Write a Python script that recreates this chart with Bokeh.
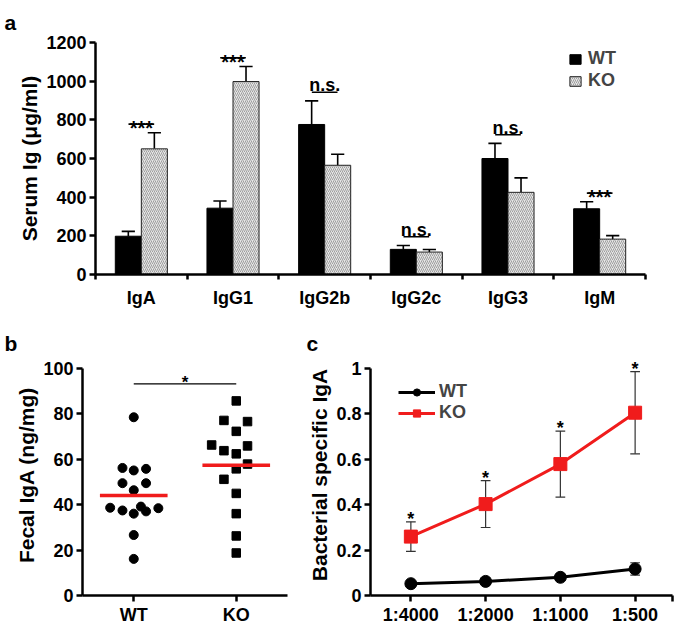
import numpy as np
from bokeh.plotting import figure
from bokeh.layouts import column, row
from bokeh.models import FixedTicker, Legend, LegendItem, ColumnDataSource, Range1d
from bokeh.embed import file_html
from bokeh.resources import INLINE

FONT = "Liberation Sans"

# ---------------- data: panel a ----------------
isotypes = ["IgA", "IgG1", "IgG2b", "IgG2c", "IgG3", "IgM"]
wt_serum = [198, 343, 776, 130, 600, 340]
wt_serum_sem = [25, 37, 122, 20, 78, 36]
ko_serum = [650, 998, 565, 116, 425, 183]
ko_serum_sem = [83, 78, 57, 13, 75, 18]
serum_sig = ["***", "***", "n.s.", "n.s.", "n.s.", "***"]
serum_ticks = [0, 200, 400, 600, 800, 1000, 1200]

# ---------------- data: panel b ----------------
fecal_groups = ["WT", "KO"]
fecal_wt = [78.4, 56.1, 55.0, 55.7, 49.4, 49.4, 46.3, 38.6, 37.4, 39.1, 36.0, 37.0, 38.4, 26.6, 16.1]
fecal_wt_jitter = [0, -0.11, 0, 0.12, -0.11, 0.12, 0, -0.23, -0.11, 0.07, 0, 0.12, 0.24, 0, 0]
fecal_ko = [85.6, 77.0, 76.5, 72.2, 66.2, 65.8, 63.7, 62.3, 57.8, 55.7, 51.1, 44.9, 36.0, 26.2, 18.7]
fecal_ko_jitter = [0, -0.12, 0.11, 0, -0.24, 0.11, -0.12, 0, 0.11, 0, -0.12, 0, 0, 0, 0]
fecal_ticks = [0, 20, 40, 60, 80, 100]

# ---------------- data: panel c ----------------
dilutions = ["1:4000", "1:2000", "1:1000", "1:500"]
bact_wt = [0.052, 0.062, 0.080, 0.117]
bact_wt_sem = [0.008, 0.008, 0.010, 0.027]
bact_ko = [0.259, 0.402, 0.578, 0.804]
bact_ko_sem = [0.065, 0.103, 0.145, 0.181]
bact_ticks = [0, 0.2, 0.4, 0.6, 0.8, 1]
bact_tick_labels = ["0", "0.2", "0.4", "0.6", "0.8", "1"]

RED = "#f01c1c"


def style_axes(p):
    p.outline_line_color = None
    p.xgrid.visible = False
    p.ygrid.visible = False
    p.background_fill_color = "white"
    p.border_fill_color = "white"
    for ax in p.axis:
        ax.axis_line_width = 2.5
        ax.axis_line_color = "black"
        ax.major_tick_line_width = 2.5
        ax.minor_tick_line_width = 2.5
        ax.major_tick_in = 0
        ax.minor_tick_in = 0
        ax.major_tick_out = 6
        ax.major_label_text_font = FONT
        ax.major_label_text_font_style = "bold"
        ax.major_label_text_font_size = "18px"
        ax.major_label_text_color = "black"
        ax.axis_label_text_font = FONT
        ax.axis_label_text_font_style = "bold"
        ax.axis_label_text_font_size = "21px"
        ax.axis_label_text_color = "black"
        ax.axis_label_standoff = 2
        ax.major_label_standoff = 3


def panel_letter(p, text, offset, standoff):
    p.title.text = text
    p.title.align = "left"
    p.title.offset = offset
    p.title.standoff = standoff
    p.title.text_font = FONT
    p.title.text_font_style = "bold"
    p.title.text_font_size = "21px"
    p.title.text_color = "black"


# ================= panel a =================
pa = figure(width=674, height=310, x_range=Range1d(0, 6), y_range=Range1d(0, 1200),
            output_backend="svg", toolbar_location=None,
            min_border_left=95, min_border_right=29, min_border_top=42, min_border_bottom=31)
style_axes(pa)

n = len(isotypes)
xc = np.arange(n) + 0.5
off, bw, cap = 0.142, 0.284, 0.072
xw = xc - off
xk = xc + off
wt_arr, wt_e = np.array(wt_serum, float), np.array(wt_serum_sem, float)
ko_arr, ko_e = np.array(ko_serum, float), np.array(ko_serum_sem, float)

# error bars (upper only)
pa.segment(x0=xw, y0=wt_arr, x1=xw, y1=wt_arr + wt_e, line_color="black", line_width=1.6)
pa.segment(x0=xw - cap, y0=wt_arr + wt_e, x1=xw + cap, y1=wt_arr + wt_e, line_color="black", line_width=1.6)
pa.segment(x0=xk, y0=ko_arr, x1=xk, y1=ko_arr + ko_e, line_color="black", line_width=1.6)
pa.segment(x0=xk - cap, y0=ko_arr + ko_e, x1=xk + cap, y1=ko_arr + ko_e, line_color="black", line_width=1.6)

wt_r = pa.vbar(x=xw, top=wt_arr, width=bw, fill_color="black", line_color="black", line_width=1)
ko_r = pa.vbar(x=xk, top=ko_arr, width=bw, fill_color="#e6e6e6", line_color="#222222", line_width=1,
               hatch_pattern="right_diagonal_line", hatch_color="#8c8c8c", hatch_scale=4, hatch_weight=0.8)

sig_y = np.maximum(wt_arr + wt_e, ko_arr + ko_e) + 45
pa.segment(x0=xc - 0.14, y0=sig_y, x1=xc + 0.14, y1=sig_y, line_color="black", line_width=1.6)
sig_src = ColumnDataSource(dict(x=xc, y=sig_y, t=serum_sig,
                                yo=[4 if s == "***" else -7 for s in serum_sig],
                                fs=["20px" if s == "***" else "18px" for s in serum_sig]))
pa.text(x="x", y="y", text="t", y_offset="yo", source=sig_src, text_align="center",
        text_baseline="alphabetic", text_font_size="fs", text_font_style="bold",
        text_font={"value": FONT}, text_color="black")

pa.xaxis.ticker = FixedTicker(ticks=[float(v) for v in xc], minor_ticks=list(range(n + 1)))
pa.xaxis.major_label_overrides = {float(v): name for v, name in zip(xc, isotypes)}
pa.xaxis.major_tick_out = 0
pa.xaxis.minor_tick_out = 5
pa.xaxis.major_label_standoff = 8
pa.yaxis.ticker = FixedTicker(ticks=serum_ticks)
pa.yaxis.axis_label = "Serum Ig (μg/ml)"

leg_a = Legend(items=[LegendItem(label="WT", renderers=[wt_r]), LegendItem(label="KO", renderers=[ko_r])],
               location=(473, 183), padding=0, margin=0, spacing=1, glyph_width=14, glyph_height=12,
               label_standoff=6, label_text_font=FONT, label_text_font_style="bold",
               label_text_font_size="18px", border_line_color=None, background_fill_alpha=0)
pa.add_layout(leg_a)
panel_letter(pa, "a", -91, 17)

# ================= panel b =================
pb = figure(width=305, height=317, x_range=Range1d(0, 2), y_range=Range1d(0, 106),
            output_backend="svg", toolbar_location=None,
            min_border_left=82, min_border_right=18, min_border_top=44, min_border_bottom=30)
style_axes(pb)
gx = [0.5, 1.5]
pb.scatter(x=gx[0] + np.array(fecal_wt_jitter), y=fecal_wt, marker="circle", size=9,
           fill_color="black", line_color="black")
pb.scatter(x=gx[1] + np.array(fecal_ko_jitter), y=fecal_ko, marker="square", size=8.5,
           fill_color="black", line_color="black")
means = [float(np.mean(fecal_wt)), float(np.mean(fecal_ko))]
pb.segment(x0=[g - 0.33 for g in gx], y0=means, x1=[g + 0.33 for g in gx], y1=means,
           line_color=RED, line_width=3.5)
sb = max(max(fecal_wt), max(fecal_ko)) + 7.5
pb.segment(x0=[gx[0]], y0=[sb], x1=[gx[1]], y1=[sb], line_color="black", line_width=1.3)
pb.text(x=[(gx[0] + gx[1]) / 2], y=[sb], text=["*"], y_offset=-1, text_align="center",
        text_baseline="alphabetic", text_font_size="17px", text_font_style="bold",
        text_font={"value": FONT}, text_color="black")
pb.xaxis.ticker = FixedTicker(ticks=gx)
pb.xaxis.major_label_overrides = {g: name for g, name in zip(gx, fecal_groups)}
pb.yaxis.ticker = FixedTicker(ticks=fecal_ticks)
pb.yaxis.bounds = (0, 100)
pb.yaxis.axis_label = "Fecal IgA (ng/mg)"
panel_letter(pb, "b", -78, 0)

# ================= panel c =================
pc = figure(width=369, height=317, x_range=Range1d(0.46, 4.5), y_range=Range1d(0, 1.06),
            output_backend="svg", toolbar_location=None,
            min_border_left=62, min_border_right=2, min_border_top=44, min_border_bottom=30)
style_axes(pc)
cx = np.arange(1, len(dilutions) + 1, dtype=float)
bw_arr, bw_e = np.array(bact_wt), np.array(bact_wt_sem)
bk_arr, bk_e = np.array(bact_ko), np.array(bact_ko_sem)
ccap = 0.065
for arr, e in ((bw_arr, bw_e), (bk_arr, bk_e)):
    pc.segment(x0=cx, y0=arr - e, x1=cx, y1=arr + e, line_color="#333333", line_width=1.2)
    pc.segment(x0=cx - ccap, y0=arr + e, x1=cx + ccap, y1=arr + e, line_color="#333333", line_width=1.2)
    pc.segment(x0=cx - ccap, y0=arr - e, x1=cx + ccap, y1=arr - e, line_color="#333333", line_width=1.2)
wl = pc.line(cx, bw_arr, line_color="black", line_width=3)
wm = pc.scatter(cx, bw_arr, marker="circle", size=12, fill_color="black", line_color="black")
kl = pc.line(cx, bk_arr, line_color=RED, line_width=3)
km = pc.scatter(cx, bk_arr, marker="square", size=13, fill_color=RED, line_color=RED)
pc.text(x=cx, y=bk_arr + bk_e, text=["*"] * len(cx), y_offset=-3, text_align="center",
        text_baseline="alphabetic", text_font_size="18px", text_font_style="bold",
        text_font={"value": FONT}, text_color="black")
pc.xaxis.ticker = FixedTicker(ticks=[float(v) for v in cx], minor_ticks=[4.5])
pc.xaxis.minor_tick_out = 6
pc.xaxis.major_label_overrides = {float(v): d for v, d in zip(cx, dilutions)}
pc.yaxis.ticker = FixedTicker(ticks=bact_ticks)
pc.yaxis.bounds = (0, 1)
pc.yaxis.major_label_overrides = {t: s for t, s in zip(bact_ticks, bact_tick_labels)}
pc.yaxis.axis_label = "Bacterial specific IgA"
leg_c = Legend(items=[LegendItem(label="WT", renderers=[wl, wm]), LegendItem(label="KO", renderers=[kl, km])],
               location=(28, 172), padding=0, margin=0, spacing=0, glyph_width=37, glyph_height=18,
               label_height=18, label_standoff=4, label_text_font=FONT, label_text_font_style="bold",
               label_text_font_size="18px", border_line_color=None, background_fill_alpha=0)
pc.add_layout(leg_c)
panel_letter(pc, "c", -64, 0)

layout = column(pa, row(pb, pc))
open("out.html", "w").write(file_html(layout, INLINE))
